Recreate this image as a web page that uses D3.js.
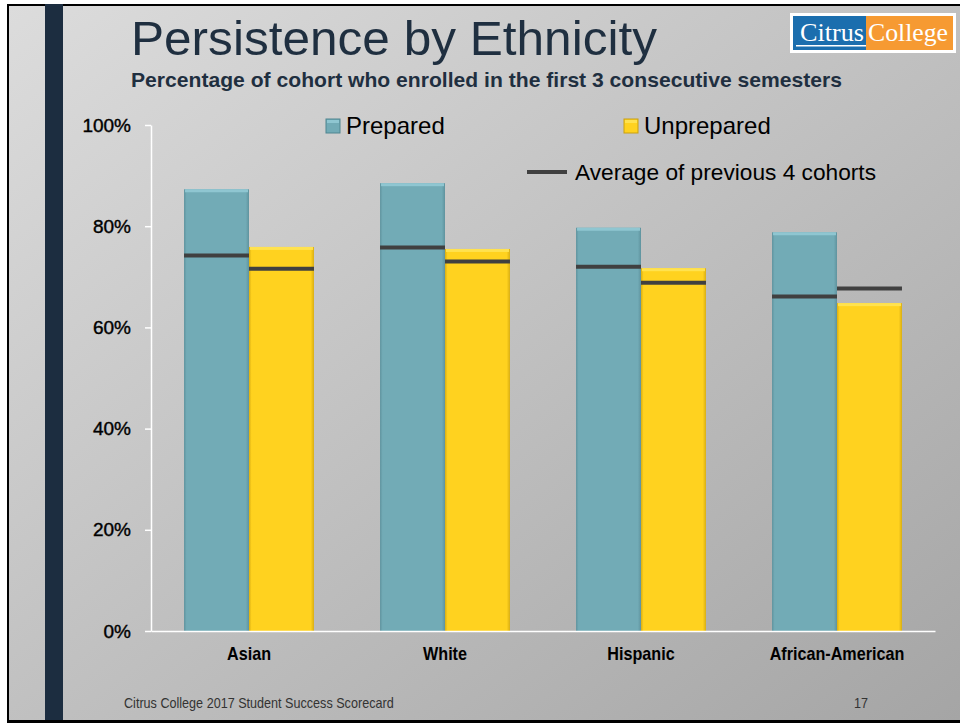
<!DOCTYPE html>
<html><head><meta charset="utf-8">
<script src="https://cdn.jsdelivr.net/npm/d3@7"></script>
<style>body{margin:0;background:#fff}svg{display:block}</style>
</head><body>
<svg id="c" width="960" height="723"></svg>
<script>
// ---- data ----
const categories = ["Asian", "White", "Hispanic", "African-American"];
const seriesNames = ["Prepared", "Unprepared"];
const prepared = [87.3, 88.5, 79.7, 78.8];
const unprepared = [75.9, 75.5, 71.7, 64.8];
const avgPrepared = [74.2, 75.8, 72.0, 66.1];
const avgUnprepared = [71.6, 73.0, 68.8, 67.7];
const yTicks = [0, 20, 40, 60, 80, 100];
const avgLabel = "Average of previous 4 cohorts";
const titleText = "Persistence by Ethnicity";
const subtitleText = "Percentage of cohort who enrolled in the first 3 consecutive semesters";
const footerText = "Citrus College 2017 Student Success Scorecard";
const pageNumber = "17";

const svg = d3.select("#c");
const defs = svg.append("defs");

// condense helper (no narrow font installed)
function condense(sel, f) {
  sel.each(function () {
    const w = this.getComputedTextLength();
    d3.select(this).attr("textLength", w * f).attr("lengthAdjust", "spacingAndGlyphs");
  });
}

// background gradient
const bg = defs.append("linearGradient").attr("id", "bg")
  .attr("x1", "0").attr("y1", "0").attr("x2", "1").attr("y2", "1");
bg.append("stop").attr("offset", "0").attr("stop-color", "#dcdcdc");
bg.append("stop").attr("offset", "1").attr("stop-color", "#a5a5a5");

function barGrad(id, edge, mid) {
  const g = defs.append("linearGradient").attr("id", id)
    .attr("x1", "0").attr("y1", "0").attr("x2", "1").attr("y2", "0");
  g.append("stop").attr("offset", "0").attr("stop-color", edge);
  g.append("stop").attr("offset", "0.04").attr("stop-color", mid);
  g.append("stop").attr("offset", "0.95").attr("stop-color", mid);
  g.append("stop").attr("offset", "1").attr("stop-color", edge);
}
barGrad("gPrep", "#5f939e", "#72abb6");
barGrad("gUnprep", "#d9ae12", "#ffd21f");
const colors = { Prepared: "url(#gPrep)", Unprepared: "url(#gUnprep)" };
const topColors = { Prepared: "#8fc6d1", Unprepared: "#ffe24f" };
const solid = { Prepared: "#72abb6", Unprepared: "#ffd21f" };

// frame
svg.append("rect").attr("x", 7).attr("y", 4).attr("width", 953).attr("height", 719).attr("fill", "#000");
svg.append("rect").attr("x", 9).attr("y", 6).attr("width", 951).attr("height", 714).attr("fill", "url(#bg)");
svg.append("rect").attr("x", 45).attr("y", 4).attr("width", 18).attr("height", 716).attr("fill", "#1c2d40");

// title
svg.append("text").attr("x", 131).attr("y", 55)
  .attr("font-family", "Liberation Sans, Arial, sans-serif").attr("font-size", 48)
  .attr("fill", "#1f2f40").attr("textLength", 526).attr("lengthAdjust", "spacingAndGlyphs")
  .text(titleText);
svg.append("text").attr("x", 131).attr("y", 87)
  .attr("font-family", "Liberation Sans, Arial, sans-serif").attr("font-weight", "bold")
  .attr("font-size", 21).attr("fill", "#1f2f40")
  .attr("textLength", 711).attr("lengthAdjust", "spacingAndGlyphs")
  .text(subtitleText);

// logo
const logo = svg.append("g");
logo.append("rect").attr("x", 790).attr("y", 13).attr("width", 166).attr("height", 40).attr("fill", "#fff");
logo.append("rect").attr("x", 793).attr("y", 16).attr("width", 73).attr("height", 34).attr("fill", "#1b6eae");
logo.append("rect").attr("x", 866).attr("y", 16).attr("width", 87).attr("height", 34).attr("fill", "#f69a32");
logo.append("text").attr("x", 800).attr("y", 41).attr("font-family", "Liberation Serif, serif")
  .attr("font-size", 26).attr("fill", "#fff").attr("textLength", 64).attr("lengthAdjust", "spacingAndGlyphs").text("Citrus");
logo.append("text").attr("x", 868).attr("y", 41).attr("font-family", "Liberation Serif, serif")
  .attr("font-size", 26).attr("fill", "#fff").attr("textLength", 80).attr("lengthAdjust", "spacingAndGlyphs").text("College");
logo.append("rect").attr("x", 796).attr("y", 45).attr("width", 70).attr("height", 1.5).attr("fill", "#fff");

// scales
const x0 = d3.scaleBand().domain(categories).range([151, 935]).paddingInner(0.337).paddingOuter(0.1685);
const x1 = d3.scaleBand().domain(seriesNames).range([0, x0.bandwidth()]);
const y = d3.scaleLinear().domain([0, 100]).range([631, 125]);

const rows = categories.map((c, i) => ({
  cat: c,
  vals: [
    { s: "Prepared", v: prepared[i], a: avgPrepared[i] },
    { s: "Unprepared", v: unprepared[i], a: avgUnprepared[i] }
  ]
}));

const plot = svg.append("g");
const groups = plot.selectAll("g.cat").data(rows).join("g")
  .attr("transform", d => `translate(${x0(d.cat)},0)`);

const bars = groups.selectAll("g.bar").data(d => d.vals).join("g");
bars.append("rect")
  .attr("x", d => x1(d.s)).attr("y", d => y(d.v))
  .attr("width", x1.bandwidth()).attr("height", d => y(0) - y(d.v))
  .attr("fill", d => colors[d.s]);
bars.append("rect")
  .attr("x", d => x1(d.s) + 1).attr("y", d => y(d.v))
  .attr("width", x1.bandwidth() - 2).attr("height", 3)
  .attr("fill", d => topColors[d.s]);

// average lines
bars.append("line")
  .attr("x1", d => x1(d.s)).attr("x2", d => x1(d.s) + x1.bandwidth())
  .attr("y1", d => y(d.a)).attr("y2", d => y(d.a))
  .attr("stroke", "#404040").attr("stroke-width", 4);

// axes
const yAxis = svg.append("g").attr("transform", "translate(151,0)")
  .call(d3.axisLeft(y).tickValues(yTicks).tickFormat(d => d + "%").tickSize(6).tickSizeOuter(0));
yAxis.select(".domain").attr("stroke", "#fff").attr("stroke-width", 1.5);
yAxis.selectAll(".tick line").attr("stroke", "#fff").attr("stroke-width", 1.5);
yAxis.selectAll(".tick text").attr("x", -20).attr("fill", "#000")
  .attr("font-family", "Liberation Sans, Arial, sans-serif").attr("font-size", 19)
  .attr("stroke", "#000").attr("stroke-width", 0.4);

const xAxis = svg.append("g").attr("transform", "translate(0,631)")
  .call(d3.axisBottom(x0).tickSize(0).tickSizeOuter(0));
xAxis.select(".domain").attr("stroke", "#fff").attr("stroke-width", 1.5);
xAxis.selectAll(".tick text").attr("y", 29).attr("dy", 0).attr("fill", "#000")
  .attr("font-family", "Liberation Sans, Arial, sans-serif").attr("font-weight", "bold")
  .attr("font-size", 19).call(condense, 0.85);

// legend
const legend = svg.append("g").attr("font-family", "Liberation Sans, Arial, sans-serif").attr("fill", "#000");
const legItems = [{ s: "Prepared", x: 326 }, { s: "Unprepared", x: 624 }];
legItems.forEach(it => {
  legend.append("rect").attr("x", it.x).attr("y", 119).attr("width", 14).attr("height", 14)
    .attr("fill", solid[it.s]).attr("stroke", it.s === "Prepared" ? "#4f8590" : "#c9a010").attr("stroke-width", 1);
  legend.append("rect").attr("x", it.x + 1).attr("y", 120).attr("width", 12).attr("height", 3)
    .attr("fill", topColors[it.s]);
  legend.append("text").attr("x", it.x + 20).attr("y", 134).attr("font-size", 24).text(it.s);
});
legend.append("line").attr("x1", 527).attr("x2", 567).attr("y1", 172).attr("y2", 172)
  .attr("stroke", "#404040").attr("stroke-width", 4);
legend.append("text").attr("x", 575).attr("y", 180).attr("font-size", 22)
  .attr("textLength", 301).attr("lengthAdjust", "spacingAndGlyphs").text(avgLabel);

// footer
svg.append("text").attr("x", 124).attr("y", 708)
  .attr("font-family", "Liberation Sans, Arial, sans-serif").attr("font-size", 15)
  .attr("fill", "#333").text(footerText).call(condense, 0.84);
svg.append("text").attr("x", 854).attr("y", 708)
  .attr("font-family", "Liberation Sans, Arial, sans-serif").attr("font-size", 15)
  .attr("fill", "#333").text(pageNumber).call(condense, 0.84);
</script>
</body></html>
